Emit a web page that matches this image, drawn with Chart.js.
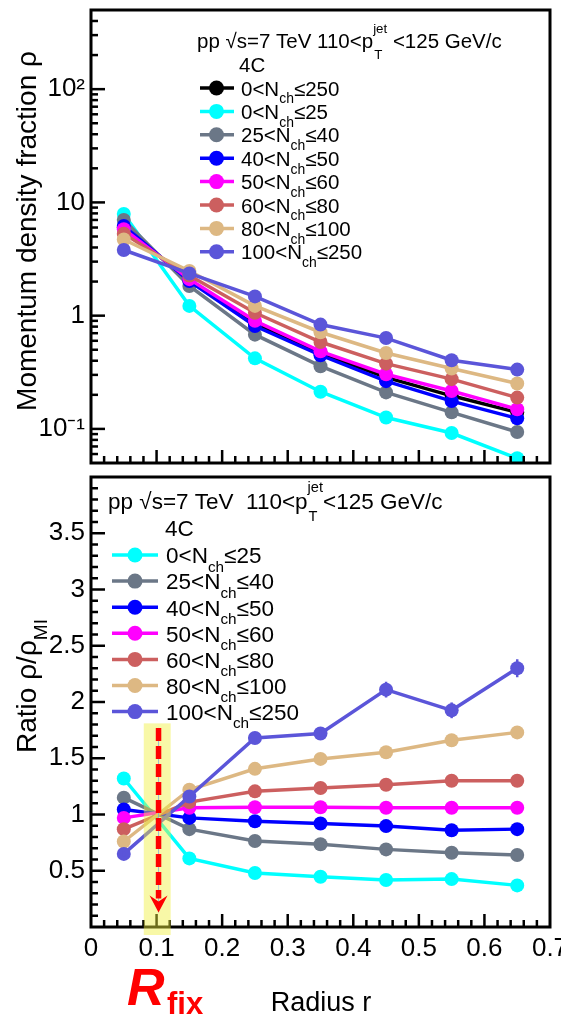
<!DOCTYPE html>
<html>
<head>
<meta charset="utf-8">
<script src="https://cdn.jsdelivr.net/npm/chart.js@4/dist/chart.umd.min.js"></script>
<style>
  html, body { margin: 0; padding: 0; background: #fff; }
  #wrap { position: relative; width: 561px; height: 1016px; overflow: hidden; }
  canvas { position: absolute; left: 0; }
  #topChart { top: 0; }
  #bottomChart { top: 470px; }
</style>
</head>
<body>
<div id="wrap">
  <canvas id="topChart" width="561" height="470"></canvas>
  <canvas id="bottomChart" width="561" height="546"></canvas>
</div>
<script>
// Radius bins (bin centres)
const radius = [0.05, 0.15, 0.25, 0.35, 0.45, 0.55, 0.65];

// Multiplicity classes (N_ch ranges)
const nchLow  = [0, 0, 25, 40, 50, 60, 80, 100];
const nchHigh = [250, 25, 40, 50, 60, 80, 100, 250];
const colors  = ['#000000', '#00ffff', '#6b7787', '#0000ff', '#ff00ff', '#cc5f5f', '#ddb883', '#5b55d9'];

// Momentum density fraction rho (top panel)
const rhoAll     = [6.0, 2.05, 0.85, 0.465, 0.285, 0.196, 0.140];
const rho0_25    = [7.9, 1.22, 0.42, 0.213, 0.126, 0.092, 0.055];
const rho25_40   = [7.0, 1.83, 0.68, 0.358, 0.210, 0.140, 0.094];
const rho40_50   = [6.2, 2.02, 0.81, 0.447, 0.264, 0.176, 0.124];
const rho50_60   = [5.8, 2.10, 0.90, 0.484, 0.304, 0.216, 0.149];
const rho60_80   = [5.3, 2.26, 1.06, 0.585, 0.377, 0.275, 0.189];
const rho80_100  = [4.7, 2.48, 1.22, 0.714, 0.468, 0.341, 0.252];
const rho100_250 = [3.8, 2.36, 1.48, 0.834, 0.634, 0.404, 0.334];

// Ratio rho / rho_MI (bottom panel)
const ratio0_25    = [1.32, 0.61, 0.48, 0.447, 0.418, 0.426, 0.37];
const ratio25_40   = [1.15, 0.87, 0.765, 0.735, 0.69, 0.66, 0.64];
const ratio40_50   = [1.044, 0.97, 0.94, 0.92, 0.897, 0.86, 0.87];
const ratio50_60   = [0.97, 1.06, 1.065, 1.065, 1.06, 1.06, 1.06];
const ratio60_80   = [0.87, 1.11, 1.206, 1.235, 1.265, 1.30, 1.30];
const ratio80_100  = [0.76, 1.22, 1.406, 1.494, 1.553, 1.66, 1.73];
const ratio100_250 = [0.65, 1.16, 1.68, 1.72, 2.11, 1.926, 2.30];
const ratio100_250Err = [0.02, 0.02, 0.03, 0.03, 0.07, 0.07, 0.08];

// Axis ticks
const rhoTickValues = [0.1, 1, 10, 100];
const rhoTickLabels = ['10\u207B\u00B9', '1', '10', '10\u00B2'];
const rFix = 0.1;

const FONT = '"Liberation Sans", Arial, Helvetica, sans-serif';

function setFont(ctx, size, style) {
  ctx.font = (style || '') + ' ' + size + 'px ' + FONT;
}

// draw text with sub/superscripts, returns width
function drawParts(ctx, parts, x, y, size, dry) {
  let cx = x;
  for (const p of parts) {
    if (p.stack) {
      setFont(ctx, size * 0.65);
      const w1 = ctx.measureText(p.sup).width;
      const w2 = ctx.measureText(p.sub).width;
      if (!dry) {
        ctx.fillText(p.sup, cx, y - size * 0.72);
        ctx.fillText(p.sub, cx + 1, y + size * 0.55);
      }
      cx += Math.max(w1, w2);
    } else if (p.sub) {
      setFont(ctx, size * 0.68);
      if (!dry) ctx.fillText(p.t, cx, y + size * 0.38);
      cx += ctx.measureText(p.t).width;
    } else {
      setFont(ctx, size, p.style);
      if (!dry) ctx.fillText(p.t, cx, y);
      cx += ctx.measureText(p.t).width;
    }
  }
  return cx - x;
}

function nchParts(i) {
  return [{ t: nchLow[i] + '<N' }, { t: 'ch', sub: true }, { t: '\u2264' + nchHigh[i] }];
}

function drawLegend(ctx, L) {
  ctx.save();
  ctx.fillStyle = '#000';
  ctx.textBaseline = 'alphabetic';
  drawParts(ctx, L.header, L.hx, L.hy, L.size);
  setFont(ctx, L.size);
  ctx.fillText('4C', L.cx, L.cy);
  L.items.forEach((idx, k) => {
    const y = L.y0 + k * L.dy;
    ctx.strokeStyle = colors[idx];
    ctx.lineWidth = 3.5;
    ctx.beginPath();
    ctx.moveTo(L.lx0, y);
    ctx.lineTo(L.lx1, y);
    ctx.stroke();
    ctx.fillStyle = colors[idx];
    ctx.beginPath();
    ctx.arc(L.mx, y, 7.5, 0, Math.PI * 2);
    ctx.fill();
    ctx.fillStyle = '#000';
    drawParts(ctx, nchParts(idx), L.tx, y + L.size * 0.37, L.size);
  });
  ctx.restore();
}

function line(ctx, x0, y0, x1, y1) {
  ctx.beginPath();
  ctx.moveTo(x0, y0);
  ctx.lineTo(x1, y1);
  ctx.stroke();
}

// ROOT style frame with inward ticks
function drawFrame(chart, logY) {
  const { ctx, chartArea: a, scales } = chart;
  ctx.save();
  ctx.strokeStyle = '#000';
  ctx.lineWidth = 2.5;
  for (let i = 1; i < 35; i++) {
    const px = scales.x.getPixelForValue(i * 0.02);
    line(ctx, px, a.bottom, px, a.bottom - (i % 5 === 0 ? 13 : 7));
  }
  if (logY) {
    for (let d = 0.01; d < 1000; d *= 10) {
      for (let m = 1; m <= 9; m++) {
        const v = m * d;
        if (v <= scales.y.min || v >= scales.y.max) continue;
        const py = scales.y.getPixelForValue(v);
        line(ctx, a.left, py, a.left + (m === 1 ? 14 : 7), py);
      }
    }
  } else {
    for (let i = 1; i < 40; i++) {
      const py = scales.y.getPixelForValue(i * 0.1);
      line(ctx, a.left, py, a.left + (i % 5 === 0 ? 14 : 7), py);
    }
  }
  ctx.lineWidth = 3;
  ctx.strokeRect(a.left, a.top, a.right - a.left, a.bottom - a.top);
  ctx.restore();
}

function makeDatasets(list) {
  return list.map((s, i) => ({
    label: s.idx,
    data: radius.map((r, k) => ({ x: r, y: s.values[k] })),
    borderColor: colors[s.idx],
    backgroundColor: colors[s.idx],
    pointBackgroundColor: colors[s.idx],
    pointBorderWidth: 0,
    pointRadius: 7,
    borderWidth: 3.5,
    tension: 0,
    order: list.length - i
  }));
}

function fixWidth(w) {
  return function (scale) {
    scale.width = w;
    scale.paddingTop = 0;
    scale.paddingBottom = 0;
  };
}

const tickFont = { family: FONT, size: 26 };

// ---------- top panel ----------
const topPlugin = {
  id: 'topDecor',
  afterDatasetsDraw(chart) {
    drawFrame(chart, true);
  },
  afterDraw(chart) {
    const ctx = chart.ctx;
    ctx.save();
    ctx.fillStyle = '#000';
    ctx.translate(36, 231);
    ctx.rotate(-Math.PI / 2);
    setFont(ctx, 28);
    ctx.textAlign = 'center';
    ctx.fillText('Momentum density fraction \u03C1', 0, 0);
    ctx.restore();
    drawLegend(ctx, {
      size: 20.5,
      header: [{ t: 'pp ' }, { t: '\u221A' }, { t: 's=7 TeV 110<p' }, { stack: true, sup: 'jet', sub: 'T' }, { t: ' <125 GeV/c' }],
      hx: 197, hy: 48, cx: 239, cy: 72,
      items: [0, 1, 2, 3, 4, 5, 6, 7],
      y0: 88, dy: 23.4, lx0: 200, lx1: 234, mx: 216.5, tx: 241
    });
  }
};

new Chart(document.getElementById('topChart'), {
  type: 'line',
  data: {
    datasets: makeDatasets([
      { idx: 0, values: rhoAll },
      { idx: 1, values: rho0_25 },
      { idx: 2, values: rho25_40 },
      { idx: 3, values: rho40_50 },
      { idx: 4, values: rho50_60 },
      { idx: 5, values: rho60_80 },
      { idx: 6, values: rho80_100 },
      { idx: 7, values: rho100_250 }
    ])
  },
  options: {
    responsive: false,
    animation: false,
    devicePixelRatio: 1,
    events: [],
    layout: { padding: { top: 10, right: 11, bottom: 2, left: 0 } },
    plugins: { legend: { display: false }, tooltip: { enabled: false } },
    scales: {
      x: { type: 'linear', min: 0, max: 0.7, display: false },
      y: {
        type: 'logarithmic', min: 0.05, max: 500,
        grid: { display: false, drawTicks: false },
        border: { display: false },
        ticks: {
          color: '#000', font: tickFont, padding: 6,
          callback: (v, i) => rhoTickLabels[i]
        },
        afterBuildTicks: (scale) => { scale.ticks = rhoTickValues.map(v => ({ value: v })); },
        afterFit: fixWidth(91)
      }
    }
  },
  plugins: [topPlugin]
});

// ---------- bottom panel ----------
const bottomPlugin = {
  id: 'bottomDecor',
  afterDatasetsDraw(chart) {
    const { ctx, chartArea: a, scales } = chart;
    // error bars
    ctx.save();
    ctx.strokeStyle = colors[7];
    ctx.lineWidth = 2.5;
    radius.forEach((r, k) => {
      const px = scales.x.getPixelForValue(r);
      line(ctx, px, scales.y.getPixelForValue(ratio100_250[k] - ratio100_250Err[k]),
        px, scales.y.getPixelForValue(ratio100_250[k] + ratio100_250Err[k]));
    });
    ctx.restore();
    drawFrame(chart, false);
    // highlighted R_fix band
    const bx0 = scales.x.getPixelForValue(rFix - 0.0195);
    const bx1 = scales.x.getPixelForValue(rFix + 0.0215);
    const byTop = scales.y.getPixelForValue(1.81);
    ctx.save();
    ctx.fillStyle = 'rgba(240,240,60,0.45)';
    ctx.fillRect(bx0, byTop, bx1 - bx0, a.bottom + 8 - byTop);
    const ax = scales.x.getPixelForValue(rFix + 0.003);
    const ay0 = scales.y.getPixelForValue(1.77);
    const ayTip = scales.y.getPixelForValue(0.13);
    ctx.strokeStyle = 'rgba(120,160,220,0.7)';
    ctx.lineWidth = 1;
    line(ctx, ax, ay0, ax, ayTip);
    ctx.strokeStyle = '#ff0000';
    ctx.lineWidth = 5.5;
    ctx.setLineDash([13, 5]);
    line(ctx, ax, ay0, ax, ayTip - 14);
    ctx.setLineDash([]);
    ctx.fillStyle = '#ff0000';
    ctx.beginPath();
    ctx.moveTo(ax - 9, ayTip - 17);
    ctx.lineTo(ax, ayTip - 11);
    ctx.lineTo(ax + 9, ayTip - 17);
    ctx.lineTo(ax, ayTip);
    ctx.closePath();
    ctx.fill();
    ctx.restore();
  },
  afterDraw(chart) {
    const ctx = chart.ctx;
    ctx.save();
    ctx.fillStyle = '#000';
    ctx.translate(36, 216);
    ctx.rotate(-Math.PI / 2);
    const parts = [{ t: 'Ratio \u03C1/\u03C1' }, { t: 'MI', sub: true }];
    const w = drawParts(ctx, parts, 0, 0, 28, true);
    drawParts(ctx, parts, -w / 2, 0, 28);
    ctx.restore();

    ctx.save();
    ctx.fillStyle = '#000';
    setFont(ctx, 27);
    ctx.textAlign = 'center';
    ctx.fillText('Radius r', 321, 541);
    ctx.fillStyle = '#ff0000';
    ctx.textAlign = 'left';
    setFont(ctx, 52, 'italic bold');
    ctx.fillText('R', 127, 535);
    setFont(ctx, 31, 'bold');
    ctx.fillText('fix', 167, 544);
    ctx.restore();

    drawLegend(ctx, {
      size: 22.5,
      header: [{ t: 'pp ' }, { t: '\u221A' }, { t: 's=7 TeV  110<p' }, { stack: true, sup: 'jet', sub: 'T' }, { t: '<125 GeV/c' }],
      hx: 108, hy: 38.5, cx: 165, cy: 66,
      items: [1, 2, 3, 4, 5, 6, 7],
      y0: 85, dy: 26.1, lx0: 112, lx1: 158, mx: 135, tx: 166
    });
  }
};

new Chart(document.getElementById('bottomChart'), {
  type: 'line',
  data: {
    datasets: makeDatasets([
      { idx: 1, values: ratio0_25 },
      { idx: 2, values: ratio25_40 },
      { idx: 3, values: ratio40_50 },
      { idx: 4, values: ratio50_60 },
      { idx: 5, values: ratio60_80 },
      { idx: 6, values: ratio80_100 },
      { idx: 7, values: ratio100_250 }
    ])
  },
  options: {
    responsive: false,
    animation: false,
    devicePixelRatio: 1,
    events: [],
    layout: { padding: { top: 2, right: 11, bottom: 0, left: 0 } },
    plugins: { legend: { display: false }, tooltip: { enabled: false } },
    scales: {
      x: {
        type: 'linear', min: 0, max: 0.7,
        grid: { display: false, drawTicks: false },
        border: { display: false },
        ticks: {
          color: '#000', font: tickFont, padding: 6, stepSize: 0.1,
          autoSkip: false, maxRotation: 0,
          callback: (v) => (v === 0 ? '0' : String(+v.toFixed(1)))
        },
        afterFit: (scale) => {
          scale.height = 89;
          scale.paddingLeft = 0;
          scale.paddingRight = 0;
        }
      },
      y: {
        type: 'linear', min: 0, max: 4,
        grid: { display: false, drawTicks: false },
        border: { display: false },
        ticks: {
          color: '#000', font: tickFont, padding: 6, stepSize: 0.5,
          callback: (v) => (v <= 0 || v >= 4 ? '' : String(+v.toFixed(1)))
        },
        afterFit: fixWidth(91)
      }
    }
  },
  plugins: [bottomPlugin]
});
</script>
</body>
</html>
